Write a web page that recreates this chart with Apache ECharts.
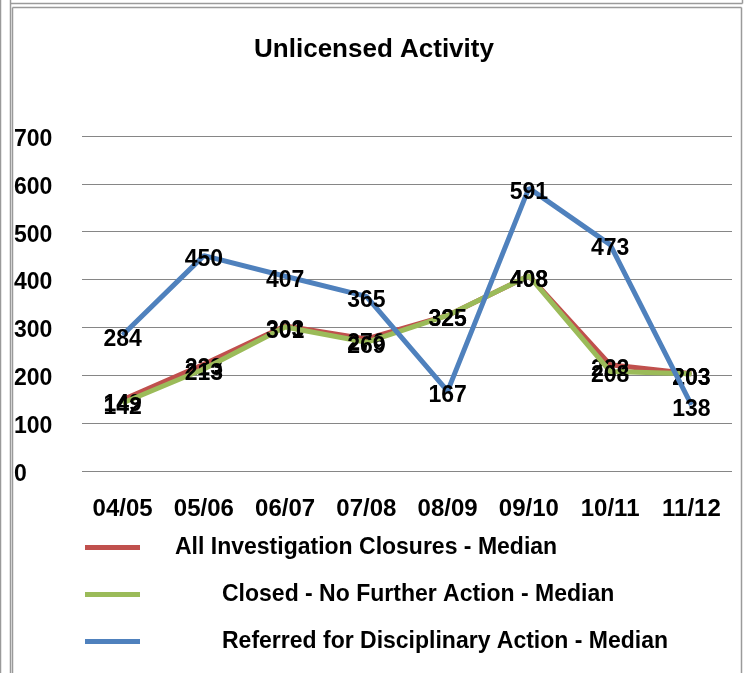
<!DOCTYPE html>
<html>
<head>
<meta charset="utf-8">
<script src="https://cdn.jsdelivr.net/npm/echarts@6/dist/echarts.min.js"></script>
<style>
html,body{margin:0;padding:0;background:#fff;}
#c{width:748px;height:673px;}
</style>
</head>
<body>
<div id="c"></div>
<script>
const categories = ['04/05','05/06','06/07','07/08','08/09','09/10','10/11','11/12'];
const allClosures = [149, 223, 303, 276, 325, 408, 222, 203];
const closedNFA = [142, 213, 301, 269, 325, 408, 208, 203];
const referred = [284, 450, 407, 365, 167, 591, 473, 138];
const seriesNames = ['All Investigation Closures - Median','Closed - No Further Action - Median','Referred for Disciplinary Action - Median'];
const colors = ['#C0504D','#9BBB59','#4F81BD'];

const FONT = 'Liberation Sans';
const chart = echarts.init(document.getElementById('c'));
const labelCfg = {show:true, position:[0.5, 5], align:'center', verticalAlign:'middle',
  color:'#000', fontFamily:FONT, fontWeight:'bold', fontSize:23};
function mkSeries(i, data){
  return {name:seriesNames[i], type:'line', data:data, symbol:'circle', symbolSize:1, showSymbol:true, smooth:false,
    lineStyle:{width:5, color:colors[i]}, itemStyle:{color:colors[i]},
    label:labelCfg, labelLayout:{hideOverlap:false}, z:2+i};
}
function mkLegend(i, top, pad){
  return {data:[seriesNames[i]], left:80, top:top, orient:'vertical', icon:'rect',
    itemWidth:55, itemHeight:5,
    textStyle:{fontFamily:FONT, fontWeight:'bold', fontSize:23, color:'#000', padding:[0,0,0,pad]}};
}
const gl = (x1,y1,x2,y2)=>({type:'line', shape:{x1,y1,x2,y2}, style:{stroke:'#9a9a9a', lineWidth:1.5}, silent:true});
chart.setOption({
  animation:false,
  backgroundColor:'#fff',
  title:{text:'Unlicensed Activity', left:'center', top:32,
    textStyle:{fontFamily:FONT, fontWeight:'bold', fontSize:26, color:'#000'}},
  grid:{left:82, right:16, top:136, bottom:202, containLabel:false},
  xAxis:{type:'category', data:categories, boundaryGap:true,
    axisLine:{show:false}, axisTick:{show:false},
    axisLabel:{color:'#000', fontFamily:FONT, fontWeight:'bold', fontSize:24, margin:26}},
  yAxis:{type:'value', min:0, max:700, interval:100,
    axisLine:{show:false}, axisTick:{show:false},
    splitLine:{lineStyle:{color:'#868686', width:1.2}},
    axisLabel:{color:'#000', align:'left', margin:68, formatter:'{v|{value}}',
      rich:{v:{fontFamily:FONT, fontWeight:'bold', fontSize:23, color:'#000', padding:[7,0,0,0]}}}},
  legend:[mkLegend(0, 531, 30), mkLegend(1, 578, 77), mkLegend(2, 625, 77)],
  series:[mkSeries(0, allClosures), mkSeries(1, closedNFA), mkSeries(2, referred)],
  graphic:[
    gl(0.5,0,0.5,673),
    gl(10.5,0,10.5,673),
    gl(10.5,3.5,742.5,3.5),
    gl(742.5,0,742.5,3.5),
    gl(12.5,7.5,741.5,7.5),
    gl(12.5,7.5,12.5,673),
    gl(741.5,7.5,741.5,673)
  ]
});
</script>
</body>
</html>
